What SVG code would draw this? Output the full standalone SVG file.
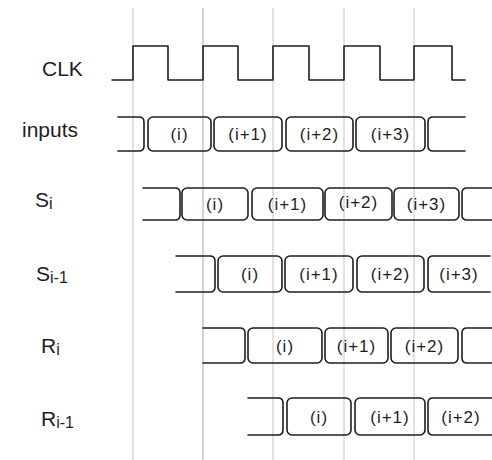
<svg xmlns="http://www.w3.org/2000/svg" width="492" height="460" viewBox="0 0 492 460">
<style>
.grid{stroke:#c4c4c4;stroke-width:1;fill:none}
.sig{stroke:#1e1e1e;stroke-width:1.6;fill:none;stroke-linejoin:round;stroke-linecap:round}
.lbl{font-family:"Liberation Sans",Arial,sans-serif;font-size:21px;fill:#1e1e1e}
.val{font-family:"Liberation Sans",Arial,sans-serif;font-size:17px;fill:#1e1e1e;text-anchor:middle;letter-spacing:1px}
</style>
<rect width="492" height="460" fill="#ffffff"/>
<g id="grid">
<line class="grid" x1="133" y1="8" x2="133" y2="460"/>
<line class="grid" x1="203" y1="8" x2="203" y2="460" style="stroke:#a8a8a8"/>
<line class="grid" x1="273" y1="8" x2="273" y2="460"/>
<line class="grid" x1="344" y1="8" x2="344" y2="460"/>
<line class="grid" x1="414" y1="8" x2="414" y2="460"/>
</g>
<g id="labels">
<text class="lbl" x="42" y="76">CLK</text>
<text class="lbl" x="22" y="137">inputs</text>
<text class="lbl" x="35" y="207">S<tspan font-size="16" dy="2">i</tspan></text>
<text class="lbl" x="36" y="281">S<tspan font-size="16" dy="2">i-1</tspan></text>
<text class="lbl" x="41" y="353">R<tspan font-size="16" dy="2">i</tspan></text>
<text class="lbl" x="41" y="426">R<tspan font-size="16" dy="2">i-1</tspan></text>
</g>
<g id="clk">
<path class="sig" d="M112,80 H133 V46 H168 V80 H203 V46 H238 V80 H273 V46 H309 V80 H344 V46 H380 V80 H414 V46 H452 V80 H465"/>
</g>
<g id="inputs">
<path class="sig" d="M118,117 H139 Q144,117 144,122 V146 Q144,151 139,151 H118"/>
<rect class="sig" x="148" y="117" width="63" height="34" rx="5"/>
<rect class="sig" x="214" y="117" width="68" height="34" rx="5"/>
<rect class="sig" x="286" y="117" width="67" height="34" rx="5"/>
<rect class="sig" x="356" y="117" width="69" height="34" rx="5"/>
<path class="sig" d="M465,117 H433 Q428,117 428,122 V146 Q428,151 433,151 H465"/>
<text class="val" x="179.5" y="140">(i)</text>
<text class="val" x="248" y="140">(i+1)</text>
<text class="val" x="319.5" y="140">(i+2)</text>
<text class="val" x="390.5" y="140">(i+3)</text>
</g>
<g id="si">
<path class="sig" d="M143,188 H175 Q180,188 180,193 V215 Q180,220 175,220 H143"/>
<rect class="sig" x="182" y="188" width="66" height="32" rx="5"/>
<rect class="sig" x="252" y="188" width="71" height="32" rx="5"/>
<rect class="sig" x="325" y="188" width="67" height="32" rx="5"/>
<rect class="sig" x="394" y="188" width="65" height="32" rx="5"/>
<path class="sig" d="M492,188 H467 Q462,188 462,193 V215 Q462,220 467,220 H492"/>
<text class="val" x="215" y="210">(i)</text>
<text class="val" x="287.5" y="210">(i+1)</text>
<text class="val" x="358.5" y="208">(i+2)</text>
<text class="val" x="426.5" y="210">(i+3)</text>
</g>
<g id="si1">
<path class="sig" d="M176,256 H210 Q215,256 215,261 V287 Q215,292 210,292 H176"/>
<rect class="sig" x="218" y="256" width="64" height="36" rx="5"/>
<rect class="sig" x="285" y="256" width="68" height="36" rx="5"/>
<rect class="sig" x="357" y="256" width="67" height="36" rx="5"/>
<path class="sig" d="M490,256 H433 Q428,256 428,261 V287 Q428,292 433,292 H490"/>
<text class="val" x="250" y="280">(i)</text>
<text class="val" x="319" y="280">(i+1)</text>
<text class="val" x="390.5" y="280">(i+2)</text>
<text class="val" x="459" y="280">(i+3)</text>
</g>
<g id="ri">
<path class="sig" d="M203,328 H240 Q245,328 245,333 V358 Q245,363 240,363 H203"/>
<rect class="sig" x="248" y="328" width="74" height="35" rx="5"/>
<rect class="sig" x="325" y="328" width="63" height="35" rx="5"/>
<rect class="sig" x="391" y="328" width="67" height="35" rx="5"/>
<path class="sig" d="M492,328 H467 Q462,328 462,333 V358 Q462,363 467,363 H492"/>
<text class="val" x="285" y="352">(i)</text>
<text class="val" x="356.5" y="352">(i+1)</text>
<text class="val" x="424.5" y="352">(i+2)</text>
</g>
<g id="ri1">
<path class="sig" d="M248,398 H278 Q283,398 283,403 V430 Q283,435 278,435 H248"/>
<rect class="sig" x="287" y="398" width="64" height="37" rx="5"/>
<rect class="sig" x="355" y="398" width="70" height="37" rx="5"/>
<path class="sig" d="M492,398 H433 Q428,398 428,403 V430 Q428,435 433,435 H492"/>
<text class="val" x="319" y="423">(i)</text>
<text class="val" x="390" y="423">(i+1)</text>
<text class="val" x="461" y="423">(i+2)</text>
</g>
</svg>
